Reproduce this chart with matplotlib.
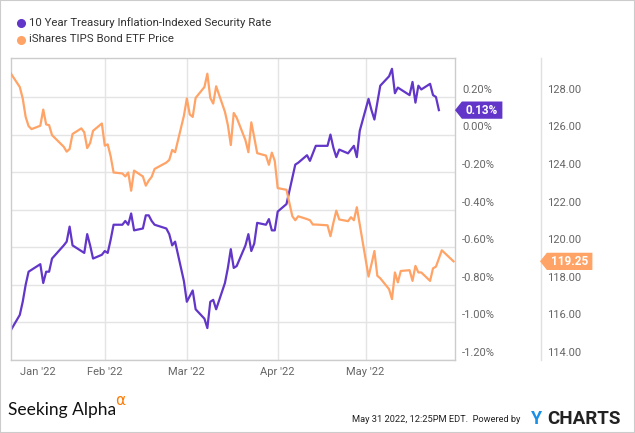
import matplotlib
matplotlib.use("Agg")
import matplotlib.pyplot as plt
import matplotlib.transforms as mtransforms
from matplotlib.lines import Line2D
from matplotlib.patches import Rectangle
from matplotlib.path import Path
import pandas as pd

plt.rcParams['font.family'] = ['Roboto', 'DejaVu Sans']

# 10 Year TIPS rate (%)
rate_dates = [
    '2021-12-31', '2022-01-03', '2022-01-04', '2022-01-05', '2022-01-06', '2022-01-07',
    '2022-01-10', '2022-01-11', '2022-01-12', '2022-01-13', '2022-01-14', '2022-01-18',
    '2022-01-19', '2022-01-20', '2022-01-21', '2022-01-24', '2022-01-25', '2022-01-26',
    '2022-01-27', '2022-01-28', '2022-01-31', '2022-02-01', '2022-02-02', '2022-02-03',
    '2022-02-04', '2022-02-07', '2022-02-08', '2022-02-09', '2022-02-10', '2022-02-11',
    '2022-02-14', '2022-02-15', '2022-02-16', '2022-02-17', '2022-02-18', '2022-02-22',
    '2022-02-23', '2022-02-24', '2022-02-25', '2022-02-28', '2022-03-01', '2022-03-02',
    '2022-03-03', '2022-03-04', '2022-03-07', '2022-03-08', '2022-03-09', '2022-03-10',
    '2022-03-11', '2022-03-14', '2022-03-15', '2022-03-16', '2022-03-17', '2022-03-18',
    '2022-03-21', '2022-03-22', '2022-03-23', '2022-03-24', '2022-03-25', '2022-03-28',
    '2022-03-29', '2022-03-30', '2022-03-31', '2022-04-01', '2022-04-04', '2022-04-05',
    '2022-04-06', '2022-04-07', '2022-04-08', '2022-04-11', '2022-04-12', '2022-04-13',
    '2022-04-14', '2022-04-18', '2022-04-19', '2022-04-20', '2022-04-21', '2022-04-22',
    '2022-04-25', '2022-04-26', '2022-04-27', '2022-04-28', '2022-04-29', '2022-05-02',
    '2022-05-03', '2022-05-04', '2022-05-05', '2022-05-06', '2022-05-09', '2022-05-10',
    '2022-05-11', '2022-05-12', '2022-05-13', '2022-05-16', '2022-05-17', '2022-05-18',
    '2022-05-19', '2022-05-20', '2022-05-23', '2022-05-24', '2022-05-25', '2022-05-26',
]
rate = [
    -1.04, -0.96, -0.89, -0.80, -0.73, -0.72,
    -0.69, -0.79, -0.73, -0.73, -0.66, -0.59,
    -0.57, -0.49, -0.59, -0.62, -0.63, -0.53,
    -0.59, -0.66, -0.64, -0.62, -0.63, -0.56,
    -0.48, -0.48, -0.46, -0.48, -0.42, -0.51,
    -0.50, -0.43, -0.43, -0.46, -0.48, -0.50,
    -0.53, -0.59, -0.57, -0.78, -0.89, -0.86,
    -0.83, -0.93, -0.98, -1.03, -0.89, -0.88,
    -0.93, -0.79, -0.71, -0.61, -0.71, -0.70,
    -0.59, -0.53, -0.62, -0.58, -0.47, -0.48,
    -0.45, -0.51, -0.51, -0.41, -0.37, -0.30,
    -0.23, -0.16, -0.15, -0.11, -0.14, -0.10,
    -0.06, -0.06, 0.00, -0.07, -0.12, -0.08,
    -0.10, -0.08, -0.06, -0.12, 0.02, 0.19,
    0.13, 0.08, 0.17, 0.26, 0.31, 0.35,
    0.22, 0.25, 0.24, 0.21, 0.28, 0.17,
    0.26, 0.24, 0.27, 0.21, 0.20, 0.13,
]

# iShares TIPS Bond ETF price
price_dates = rate_dates + ['2022-05-27', '2022-05-31']
price = [
    129.24, 128.53, 127.92, 126.94, 126.45, 126.29,
    126.47, 127.33, 126.54, 126.50, 125.97, 125.35,
    125.09, 125.23, 126.03, 126.33, 126.12, 125.28,
    125.55, 126.20, 126.59, 125.41, 125.48, 124.85,
    123.98, 123.93, 123.77, 123.98, 123.01, 124.08,
    123.77, 123.28, 123.55, 123.75, 124.17, 124.51,
    124.65, 125.18, 125.06, 127.00, 127.92, 127.07,
    126.94, 127.95, 128.53, 129.24, 127.95, 127.65,
    128.57, 127.21, 126.50, 125.44, 127.15, 126.90,
    125.70, 125.06, 126.65, 125.85, 125.01, 124.88,
    124.39, 125.04, 124.60, 123.15, 123.06, 122.35,
    121.65, 121.44, 121.65, 121.50, 121.44, 121.21,
    121.21, 121.17, 120.59, 121.30, 121.95, 121.48,
    121.39, 121.60, 121.44, 122.13, 121.21, 118.44,
    119.10, 119.80, 118.48, 118.35, 117.77, 117.24,
    118.66, 118.13, 118.74, 118.78, 118.21, 119.01,
    118.66, 118.66, 118.21, 118.88, 118.97, 119.40,
    119.84, 119.25,
]

rate_ticks = [-1.2, -1.0, -0.8, -0.6, -0.4, -0.2, 0.0, 0.2]
price_ticks = [114, 116, 118, 120, 122, 124, 126, 128]
month_ticks = ['2022-02-01', '2022-03-01', '2022-04-01', '2022-05-01']
month_labels = ["Feb '22", "Mar '22", "Apr '22", "May '22"]

rate_name = '10 Year Treasury Inflation-Indexed Security Rate'
price_name = 'iShares TIPS Bond ETF Price'

PURPLE = '#6236C8'
ORANGE = '#FFA366'
GRID = '#E4E4E4'
TICK = '#666666'

W, H = 635, 433
fig = plt.figure(figsize=(W / 100, H / 100), dpi=100)

ax = fig.add_axes([11 / W, 73 / H, 444 / W, 302 / H])
ax2 = ax.twinx()

ax.plot(pd.to_datetime(rate_dates), rate, color=PURPLE, lw=1.6)
ax2.plot(pd.to_datetime(price_dates), price, color=ORANGE, lw=1.6)

ax.set_xlim(pd.Timestamp('2021-12-31'), pd.Timestamp('2022-05-31 12:00'))
ax.set_ylim(-1.2, 0.4075)
ax2.set_ylim(114, 130.075)

ax.set_yticks(rate_ticks)
ax2.set_yticks(price_ticks)
ax.tick_params(axis='y', left=False, labelleft=False)
ax2.tick_params(axis='y', right=False, labelright=False)

ax.set_xticks(pd.to_datetime(month_ticks))
ax.set_xticklabels(month_labels)
ax.set_xticks([pd.Timestamp('2022-01-09')], minor=True)
ax.set_xticklabels(["Jan '22"], minor=True)
ax.tick_params(axis='x', which='both', length=0, pad=5, labelsize=8, labelcolor=TICK)

ax.grid(True, which='major', color=GRID, lw=1)
ax.set_axisbelow(True)
for s in ax.spines.values():
    s.set_color('#CCCCCC')
    s.set_linewidth(1)
for s in ax2.spines.values():
    s.set_visible(False)

# axis labels sit just above their grid lines, outside the plot
lift = mtransforms.ScaledTranslation(0, 3 / 72, fig.dpi_scale_trans)
t_left = mtransforms.blended_transform_factory(fig.transFigure, ax.transData) + lift
t_right = mtransforms.blended_transform_factory(fig.transFigure, ax2.transData) + lift
for v in rate_ticks:
    fig.text(462 / W, v, f'{v:.2f}%', transform=t_left, ha='left', va='baseline',
             fontsize=8, color=TICK)
for v in price_ticks:
    fig.text(547 / W, v, f'{v:.2f}', transform=t_right, ha='left', va='baseline',
             fontsize=8, color=TICK)

fig.add_artist(Line2D([541 / W, 541 / W], [73 / H, 375 / H], color='#E0E0E0', lw=1))


def tag(x0, y0, width, height, mutation_size):
    padx, pady = 0.35 * mutation_size, 0.18 * mutation_size
    x0, y0 = x0 - padx, y0 - pady
    x1, y1 = x0 + width + 2 * padx, y0 + height + 2 * pady
    tip = (y1 - y0) * 0.4
    verts = [(x0, y0), (x1, y0), (x1, y1), (x0, y1), (x0 - tip, (y0 + y1) / 2), (x0, y0)]
    return Path(verts, closed=True)


t_left0 = mtransforms.blended_transform_factory(fig.transFigure, ax.transData)
t_right0 = mtransforms.blended_transform_factory(fig.transFigure, ax2.transData)
fig.text(466 / W, rate[-1], f'{rate[-1]:.2f}%', transform=t_left0, ha='left', va='center',
         fontsize=8.5, fontweight='bold', color='white',
         bbox=dict(boxstyle=tag, facecolor=PURPLE, edgecolor='none'))
fig.text(551 / W, price[-1], f'{price[-1]:.2f}', transform=t_right0, ha='left', va='center',
         fontsize=8.5, fontweight='bold', color='white',
         bbox=dict(boxstyle=tag, facecolor=ORANGE, edgecolor='none'))

# legend
for i, (name, col) in enumerate([(rate_name, PURPLE), (price_name, ORANGE)]):
    yy = 1 - (23 + 16.5 * i) / H
    fig.add_artist(Line2D([21 / W], [yy], marker='o', markersize=5.5, color=col, lw=0))
    fig.text(29 / W, yy, name, ha='left', va='center', fontsize=8.2, color='#333333')

# footer
fig.text(8 / W, 1 - 415 / H, 'Seeking Alpha', ha='left', va='baseline', fontsize=12.5,
         family='Lato', color='#111111')
fig.text(115 / W, 1 - 405 / H, '\u03b1', ha='left', va='baseline', fontsize=11,
         family='DejaVu Sans', color='#FF7A00')
fig.text(352 / W, 1 - 420 / H, 'May 31 2022, 12:25PM EDT.  Powered by', ha='left',
         va='center', fontsize=6.7, color='#222222')
fig.text(531 / W, 1 - 419 / H, 'Y', ha='left', va='center', fontsize=13,
         fontweight='bold', color='#1A8FE8')
fig.text(547 / W, 1 - 419 / H, 'CHARTS', ha='left', va='center', fontsize=13.5,
         fontweight='bold', color='#222222')

fig.add_artist(Rectangle((0, 0), 1, 1, transform=fig.transFigure, fill=False,
                         edgecolor='#CCCCCC', lw=1.5))

fig.savefig('out.png', dpi=100)
